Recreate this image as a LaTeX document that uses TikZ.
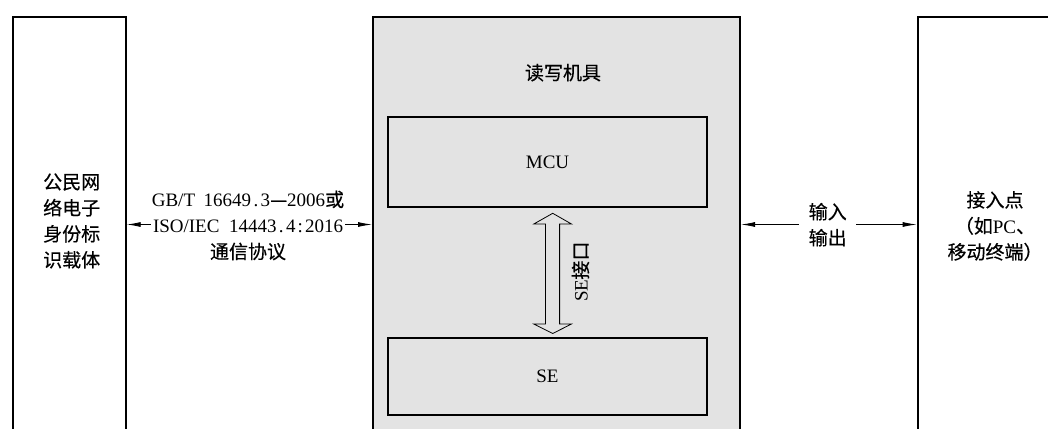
\documentclass[tikz,border=0pt]{standalone}
\usepackage{fontspec}
\setmainfont{Liberation Serif}
\newfontfamily\cjk[FakeBold=0.4]{Noto Sans CJK SC}
\usetikzlibrary{arrows.meta}
\definecolor{boxgray}{RGB}{227,227,227}
\newcommand\hw[1]{\makebox[0.5em]{#1}}
\begin{document}
\begin{tikzpicture}[x=1pt,y=-1pt,
  every node/.style={font=\fontsize{19}{26}\selectfont, inner sep=0pt},
  bigbox/.style={draw, line width=2pt, anchor=north west},
  innerbox/.style={draw, line width=2pt, anchor=north west},
  lbl/.style={align=center},
  conn/.style={line width=0.9pt, {Latex[length=14pt,width=5pt]}-{Latex[length=14pt,width=5pt]}},
  dbl/.style={line width=0.8pt}
]
\useasboundingbox (0,0) rectangle (1048,428);
\clip (0,0) rectangle (1048,428);
% main boxes
\node[bigbox, minimum width=112.7pt, minimum height=440pt] (card) at (12,16) {};
\node[bigbox, fill=boxgray, minimum width=367pt, minimum height=440pt] (reader) at (372,16) {};
\node[bigbox, minimum width=160pt, minimum height=440pt] (access) at (916.7,16) {};
% inner boxes
\node[innerbox, minimum width=318.4pt, minimum height=90.3pt] (mcu) at (387.3,115.7) {};
\node[innerbox, minimum width=318.4pt, minimum height=77pt] (se) at (387.3,337) {};
% texts
\node[lbl] (cardtxt) at (71.7,221) {\cjk 公民网\\\cjk 络电子\\\cjk 身份标\\\cjk 识载体};
\node (readertxt) at (563,72.7) {\cjk 读写机具};
\node (mcutxt) at (mcu.center) {MCU};
\node (setxt) at (se.center) {SE};
\node[lbl] (accesstxt) at (995,226) {\cjk 接入点\\{\cjk （如}PC{\cjk 、}\\{\cjk 移动终端）}};
% connectors
\coordinate (ya) at (0,224.5);
\draw[conn] (card.east |- ya) -- (reader.west |- ya);
\draw[conn] (reader.east |- ya) -- (access.west |- ya);
\node[lbl, fill=white, inner xsep=1pt] (proto) at (248,225.5)
  {GB/T\hspace{0.45em}16649\hw{.}3{\cjk —}2006{\cjk 或}\\
   ISO/IEC\hspace{0.5em}14443\hw{.}4\hw{:}2016\\
   {\cjk 通信协议}};
\node[lbl, fill=white, inner xsep=9.5pt, inner ysep=2pt] (io) at (827.7,224.7) {\cjk 输入\\\cjk 输出};
% SE interface double arrow
\coordinate (top) at (552.7,213.3);
\coordinate (bot) at (552.7,333.5);
\draw[dbl] (top) -- (571.5,224) -- (559.6,224) -- (559.6,324) -- (571.5,324) -- (bot)
  -- (533.8,324) -- (545.4,324) -- (545.4,224) -- (533.8,224) -- cycle;
\node[rotate=90] (seif) at (580.5,271.7) {SE{\cjk 接口}};
\end{tikzpicture}
\end{document}
